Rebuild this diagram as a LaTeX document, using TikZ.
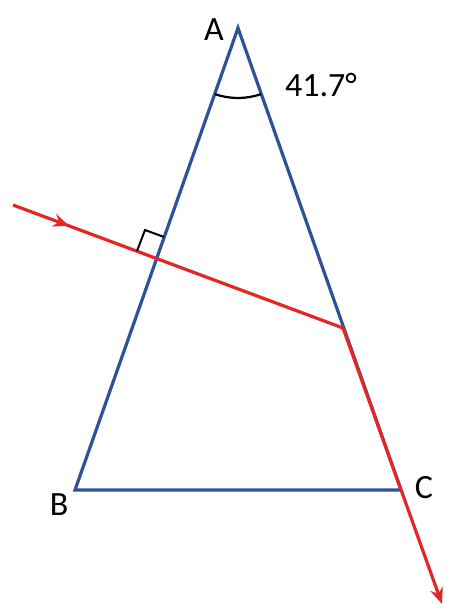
\documentclass[tikz,border=0pt]{standalone}
\usepackage{fontspec}
\setmainfont{Carlito}
\usetikzlibrary{arrows.meta,decorations.markings,calc}
\definecolor{triblue}{RGB}{47,82,150}
\definecolor{rayred}{RGB}{228,38,38}
\tikzset{
  side/.style={triblue,line width=3.2pt},
  ray/.style={rayred,line width=3.2pt},
  lbl/.style={font=\fontsize{34}{40}\selectfont,inner sep=0pt},
  tip/.style={-{Stealth[length=16pt,width=13pt]}},
}
\begin{document}
\begin{tikzpicture}[x=1pt,y=-1pt]
\useasboundingbox (0,0) rectangle (474,610);
\coordinate (A) at (238,28);
\coordinate (B) at (75,490);
\coordinate (C) at (401,490);
\coordinate (S) at (13,205);
\coordinate (P) at (157,259);
\coordinate (Q) at (343,328);
\coordinate (E) at (442,604);
\coordinate (R1) at (137,251);
\coordinate (R2) at (145,230);
\coordinate (R3) at (164,237);
% triangle
\draw[side,line join=miter] (B) -- (A) -- (C) -- cycle;
% ray
\draw[ray,postaction={decorate},decoration={markings,mark=at position 0.17 with {\arrow{Stealth[length=16pt,width=13pt]}}}] (S) -- (Q);
\draw[ray,tip] (Q) -- (E);
% right angle
\draw[black,line width=2pt] (R1) -- (R2) -- (R3);
% angle arc
\draw[black,line width=2.2pt] ($(A)+(109.4:70)$) arc[start angle=109.4,end angle=70.6,radius=70];
% labels
\node[lbl] (lA) at (214,30) {A};
\node[lbl] (lang) at (321,85) {41.7°};
\node[lbl] (lB) at (59,505) {B};
\node[lbl] (lC) at (424,488) {C};
\end{tikzpicture}
\end{document}
